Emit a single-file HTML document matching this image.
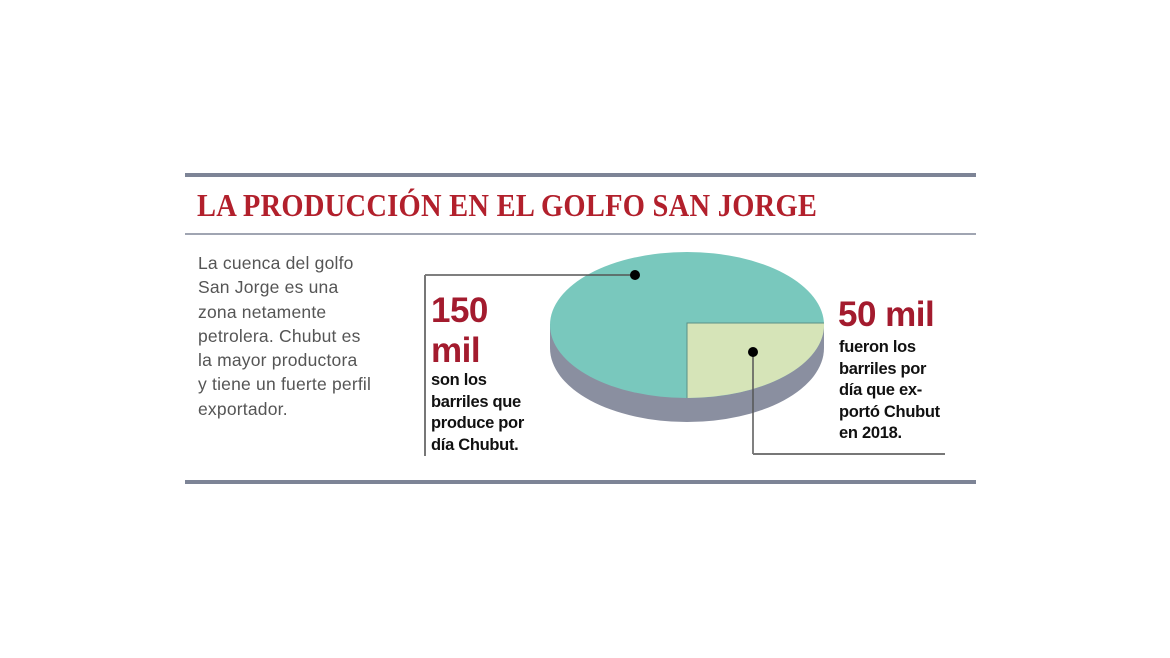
<!DOCTYPE html>
<html><head><style>
body{margin:0;width:1170px;height:658px;background:#fff;position:relative;overflow:hidden;font-family:"Liberation Sans",sans-serif}
.a{position:absolute;white-space:nowrap}
.rule{position:absolute;left:185px;width:791px;background:#7d8496}
.t{left:197px;top:187px;font-family:"Liberation Serif",serif;font-weight:bold;font-size:32px;color:#b2202c;letter-spacing:0.3px;transform:scaleX(0.89);transform-origin:left top}
.p{left:198px;top:251px;font-size:17.5px;line-height:24.3px;color:#555;letter-spacing:0.2px}
.big{font-weight:bold;color:#a31b2e;font-size:35px;line-height:40px;letter-spacing:-0.5px}
.sm{font-weight:bold;color:#111;font-size:16.5px;line-height:21.5px;letter-spacing:-0.3px}
</style></head><body>
<div class="rule" style="top:173px;height:4px"></div>
<div class="a t">LA PRODUCCIÓN EN EL GOLFO SAN JORGE</div>
<div class="rule" style="top:233px;height:2px;background:#a0a5b2"></div>
<div class="rule" style="top:480px;height:4px"></div>
<div class="a p">La cuenca del golfo<br>San Jorge es una<br>zona netamente<br>petrolera. Chubut es<br>la mayor productora<br>y tiene un fuerte perfil<br>exportador.</div>
<svg class="a" style="left:0;top:0" width="1170" height="658">
<ellipse cx="687" cy="348" rx="137" ry="74" fill="#8a8fa0"/>
<rect x="550" y="324" width="274" height="24" fill="#8a8fa0"/>
<ellipse cx="687" cy="325" rx="137" ry="73" fill="#79c8bd"/>
<path d="M687 323 L824 323 A137 73 0 0 1 687 398 Z" fill="#d6e4b8"/>
<path d="M687 398 L687 323 L824 323" fill="none" stroke="#5a8f86" stroke-width="1"/>
<line x1="425" y1="275" x2="635" y2="275" stroke="#555" stroke-width="1.5"/>
<line x1="425" y1="275" x2="425" y2="456" stroke="#777" stroke-width="2"/>
<line x1="753" y1="352" x2="753" y2="454" stroke="#555" stroke-width="1.5"/>
<line x1="753" y1="454" x2="945" y2="454" stroke="#777" stroke-width="2"/>
<circle cx="635" cy="275" r="5" fill="#000"/>
<circle cx="753" cy="352" r="5" fill="#000"/>
</svg>
<div class="a big" style="left:431px;top:291px">150<br>mil</div>
<div class="a sm" style="left:431px;top:370px">son los<br>barriles que<br>produce por<br>día Chubut.</div>
<div class="a big" style="left:838px;top:295px">50 mil</div>
<div class="a sm" style="left:839px;top:337px">fueron los<br>barriles por<br>día que ex-<br>portó Chubut<br>en 2018.</div>
</body></html>
